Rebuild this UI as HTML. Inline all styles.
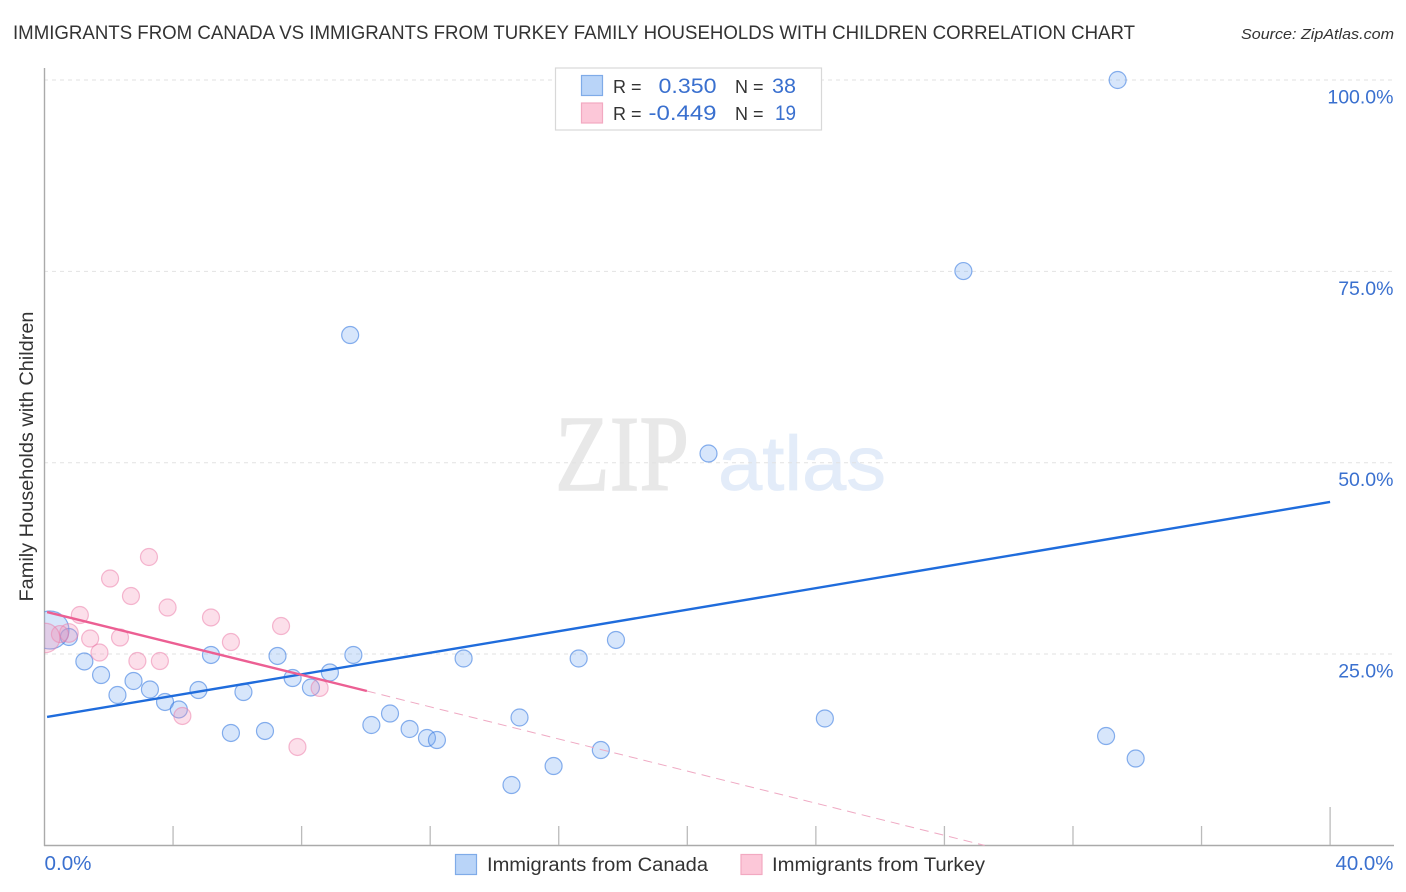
<!DOCTYPE html>
<html>
<head>
<meta charset="utf-8">
<style>
html,body{margin:0;padding:0;background:#fff;}
svg{display:block;font-family:"Liberation Sans",sans-serif;}
</style>
</head>
<body>
<svg id="chart" width="1406" height="892" viewBox="0 0 1406 892" xmlns="http://www.w3.org/2000/svg">
  <defs>
    <clipPath id="plot-clip"><rect x="44.5" y="60" width="1350" height="785"/></clipPath>
  </defs>
  <text x="13" y="39" font-size="19.5" fill="#333" textLength="1122" lengthAdjust="spacingAndGlyphs">IMMIGRANTS FROM CANADA VS IMMIGRANTS FROM TURKEY FAMILY HOUSEHOLDS WITH CHILDREN CORRELATION CHART</text>
  <text x="1241" y="39" font-size="15" font-style="italic" fill="#333" textLength="153" lengthAdjust="spacingAndGlyphs">Source: ZipAtlas.com</text>

  <g>
    <text x="555" y="490" font-size="108" font-family="'Liberation Serif',serif" fill="#e8e8e8" stroke="#e8e8e8" stroke-width="1.4" textLength="134" lengthAdjust="spacingAndGlyphs">ZIP</text>
    <text x="718" y="490" font-size="77" fill="#e3ecf9" stroke="#e3ecf9" stroke-width="0.8" textLength="168" lengthAdjust="spacingAndGlyphs">atlas</text>
  </g>

  <g id="grid"></g>
  <g id="axes"></g>
  <g id="marks" clip-path="url(#plot-clip)"></g>
  <g id="trends"></g>

  <text transform="translate(33,456.5) rotate(-90)" text-anchor="middle" font-size="19" fill="#333" textLength="290" lengthAdjust="spacingAndGlyphs">Family Households with Children</text>

  <g>
    <rect x="555.5" y="68" width="266" height="62" fill="#fff" stroke="#d8d8d8" stroke-width="1.2"/>
    <rect x="581.5" y="75.5" width="21" height="20" fill="#b9d4f8" stroke="#7fabe8" stroke-width="1.2"/>
    <rect x="581.5" y="103" width="21" height="20" fill="#fcc7d8" stroke="#f2a9c1" stroke-width="1.2"/>
    <text x="613" y="93" font-size="18" fill="#333">R =</text>
    <text x="716.5" y="93" font-size="21" fill="#3a70cf" text-anchor="end" textLength="58" lengthAdjust="spacingAndGlyphs">0.350</text>
    <text x="735" y="93" font-size="18" fill="#333">N =</text>
    <text x="796" y="93" font-size="21" fill="#3a70cf" text-anchor="end" textLength="24" lengthAdjust="spacingAndGlyphs">38</text>
    <text x="613" y="120" font-size="18" fill="#333">R =</text>
    <text x="716.5" y="120" font-size="21" fill="#3a70cf" text-anchor="end" textLength="68" lengthAdjust="spacingAndGlyphs">-0.449</text>
    <text x="735" y="120" font-size="18" fill="#333">N =</text>
    <text x="796" y="120" font-size="21" fill="#3a70cf" text-anchor="end" textLength="21" lengthAdjust="spacingAndGlyphs">19</text>
  </g>

  <g>
    <rect x="455.5" y="854.5" width="21" height="20" fill="#b9d4f8" stroke="#7fabe8" stroke-width="1.2"/>
    <text x="487" y="871" font-size="19" fill="#333" textLength="221" lengthAdjust="spacingAndGlyphs">Immigrants from Canada</text>
    <rect x="741" y="854.5" width="21" height="20" fill="#fcc7d8" stroke="#f2a9c1" stroke-width="1.2"/>
    <text x="772" y="871" font-size="19" fill="#333" textLength="213" lengthAdjust="spacingAndGlyphs">Immigrants from Turkey</text>
  </g>
</svg>

<script>
const blueX = [33.39,28.59,9.51,20.66,17.78,0.76,1.24,1.76,2.27,2.77,3.28,3.75,4.18,4.79,5.18,6.19,5.80,6.86,7.25,7.72,8.29,8.88,9.61,10.17,10.75,11.36,11.90,12.21,13.04,14.78,14.53,15.84,16.62,17.31,24.28,33.03,33.95,0.17];
const blueY = [100,75.04,66.68,51.2,26.84,27.23,24.03,22.26,19.65,21.48,20.37,18.74,17.76,20.3,24.88,20.04,14.69,14.95,24.75,21.87,20.63,22.59,24.88,15.73,17.23,15.21,14.03,13.77,24.42,16.71,7.89,10.37,24.42,12.46,16.58,14.29,11.35,28.14];
const blueWeight = [1,1,1,1,1,1,1,1,1,1,1,1,1,1,1,1,1,1,1,1,1,1,1,1,1,1,1,1,1,1,1,1,1,1,1,1,1,5];
const pinkX = [3.25,2.04,2.69,3.83,1.10,5.18,7.36,5.80,2.35,1.42,1.71,2.89,3.59,4.29,7.87,8.56,0.76,0.48,0.02];
const pinkY = [37.68,34.87,32.58,31.08,30.10,29.78,28.66,26.57,27.16,27.03,25.20,24.09,24.09,16.91,12.86,20.57,27.75,27.61,27.1];
const pinkWeight = [1,1,1,1,1,1,1,1,1,1,1,1,1,1,1,1,1.2,1,3];
const blueTrendX = [0.08,40];
const blueTrendY = [16.78,44.87];
const pinkTrendX = [0.08,10.03];
const pinkTrendY = [30.49,20.17];
const pinkDashX = [10.03,29.25];
const pinkDashY = [20.17,0];
const yTickValues = [100,75,50,25];
const yTickLabels = ['100.0%','75.0%','50.0%','25.0%'];
const xTickValues = [4,8,12,16,20,24,28,32,36,40];
const xEndValues = [0,40];
const xEndLabels = ['0.0%','40.0%'];

const NS = 'http://www.w3.org/2000/svg';
function xScale(v){ return 44.5 + v * 32.14; }
function yScale(v){ return 845.4 - v * 7.654; }
function rScale(w){ return 8.5 * Math.sqrt(w); }
function make(tag, parent, attrs){
  const el = document.createElementNS(NS, tag);
  for (const k in attrs) el.setAttribute(k, attrs[k]);
  parent.appendChild(el);
  return el;
}

const grid = document.getElementById('grid');
const axes = document.getElementById('axes');
const marks = document.getElementById('marks');
const trends = document.getElementById('trends');

yTickValues.forEach(function(v, i){
  const g = make('line', grid, {x1:44, x2:1394, y1:yScale(v), y2:yScale(v), stroke:'#e2e2e2', 'stroke-width':1, 'stroke-dasharray':'4 4'});
  
  
  const t = make('text', axes, {x:1393.5, y:yScale(v)+23.5, 'text-anchor':'end', 'font-size':19.5, fill:'#3a70cf'});
  
  
  t.textContent = yTickLabels[i];
});

const yAxis = make('line', axes, {x1:44.5, x2:44.5, y1:68, y2:846, stroke:'#aaa', 'stroke-width':1.4});


const xAxis = make('line', axes, {x1:44, x2:1394, y1:845.5, y2:845.5, stroke:'#aaa', 'stroke-width':1.4});



xTickValues.forEach(function(v, i){
  const top = i === xTickValues.length - 1 ? 807 : 826;
  const tk = make('line', axes, {x1:xScale(v), x2:xScale(v), y1:top, y2:845, stroke:'#bbb', 'stroke-width':1.3});
  
  
});

xEndValues.forEach(function(v, i){
  const t = make('text', axes, {x: i === 0 ? xScale(v) : 1393.5, y:870, 'text-anchor': i === 0 ? 'start' : 'end', 'font-size':20, fill:'#3a70cf', textLength: i === 0 ? 47 : 58, lengthAdjust:'spacingAndGlyphs'});
  
  
  t.textContent = xEndLabels[i];
});

blueX.forEach(function(v, i){
  const c = make('circle', marks, {cx:xScale(v), cy:yScale(blueY[i]), r:rScale(blueWeight[i]), fill:'rgba(110,165,240,0.28)', stroke:'rgba(60,125,225,0.6)', 'stroke-width':1.2});
  
  
});
pinkX.forEach(function(v, i){
  const c = make('circle', marks, {cx:xScale(v), cy:yScale(pinkY[i]), r:rScale(pinkWeight[i]), fill:'rgba(245,150,185,0.3)', stroke:'rgba(235,120,165,0.5)', 'stroke-width':1.2});
  
  
});

const pd = make('line', trends, {x1:xScale(pinkDashX[0]), y1:yScale(pinkDashY[0]), x2:xScale(pinkDashX[1]), y2:yScale(pinkDashY[1]), stroke:'#efa9c3', 'stroke-width':1, 'stroke-dasharray':'9 6'});


const bl = make('line', trends, {x1:xScale(blueTrendX[0]), y1:yScale(blueTrendY[0]), x2:xScale(blueTrendX[1]), y2:yScale(blueTrendY[1]), stroke:'#1f6cdc', 'stroke-width':2.4});


const pl = make('line', trends, {x1:xScale(pinkTrendX[0]), y1:yScale(pinkTrendY[0]), x2:xScale(pinkTrendX[1]), y2:yScale(pinkTrendY[1]), stroke:'#ec5f93', 'stroke-width':2.4});


</script>
</body>
</html>
